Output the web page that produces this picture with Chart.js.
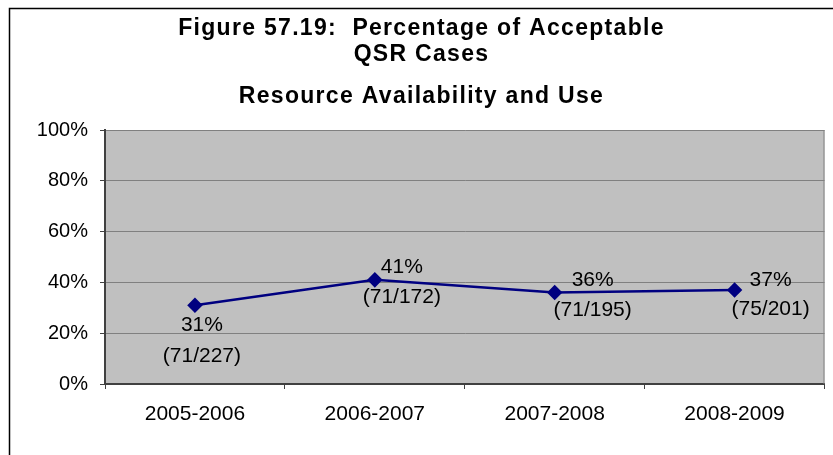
<!DOCTYPE html>
<html>
<head>
<meta charset="utf-8">
<script src="https://cdn.jsdelivr.net/npm/chart.js@4"></script>
<style>
  html, body { margin: 0; padding: 0; background: #fff; }
  #wrap { width: 833px; height: 455px; position: relative; }
</style>
</head>
<body>
<div id="wrap"><canvas id="chart"></canvas></div>
<script>
const years = ['2005-2006', '2006-2007', '2007-2008', '2008-2009'];
const acceptablePct = [31, 41, 36, 37];
const acceptableCases = [71, 71, 71, 75];
const reviewedCases = [227, 172, 195, 201];
const yTicks = [0, 20, 40, 60, 80, 100];
const titleLines = ['Figure 57.19:  Percentage of Acceptable', 'QSR Cases', 'Resource Availability and Use'];

const FONT = 'Arial, "Liberation Sans", sans-serif';

// title line heights, and where each point's two-line label sits
const titleY = [29, 55, 97];
const labelOffsets = [
    { dx: 7, top: 20, bottom: 51 },
    { dx: 27, top: -13, bottom: 17 },
    { dx: 38, top: -12, bottom: 18 },
    { dx: 36, top: -10, bottom: 19 }
];

// frame round the whole chart, grey plot area, title
const frame = {
    id: 'frame',
    beforeDraw(chart) {
        const { ctx, chartArea: a } = chart;
        ctx.save();
        ctx.fillStyle = '#c0c0c0';
        ctx.fillRect(a.left, a.top, a.right - a.left, a.bottom - a.top);
        ctx.strokeStyle = '#000';
        ctx.lineWidth = 1.5;
        ctx.strokeRect(9.5, 8.5, 900, 600);

        ctx.font = 'bold 23px ' + FONT;
        ctx.fillStyle = '#000';
        ctx.textAlign = 'center';
        ctx.textBaseline = 'middle';
        ctx.letterSpacing = '1.3px';
        titleLines.forEach((t, i) => ctx.fillText(t, 833 / 2 + 5, titleY[i]));
        ctx.restore();
    },
    beforeDatasetsDraw(chart) {
        const { ctx, chartArea: a } = chart;
        ctx.save();
        ctx.strokeStyle = '#808080';
        ctx.lineWidth = 1;
        ctx.beginPath();
        ctx.moveTo(a.right - 0.5, a.top);
        ctx.lineTo(a.right - 0.5, a.bottom);
        ctx.stroke();
        ctx.restore();
    }
};

const pointLabels = {
    id: 'pointLabels',
    afterDatasetsDraw(chart) {
        const { ctx } = chart;
        const meta = chart.getDatasetMeta(0);
        ctx.save();
        ctx.font = '21px ' + FONT;
        ctx.fillStyle = '#000';
        ctx.textAlign = 'center';
        ctx.textBaseline = 'middle';
        meta.data.forEach((pt, i) => {
            const o = labelOffsets[i];
            ctx.fillText(acceptablePct[i] + '%', pt.x + o.dx, pt.y + o.top);
            ctx.fillText('(' + acceptableCases[i] + '/' + reviewedCases[i] + ')', pt.x + o.dx, pt.y + o.bottom);
        });
        ctx.restore();
    }
};

new Chart(document.getElementById('chart'), {
    type: 'line',
    data: {
        labels: years,
        datasets: [{
            data: acceptablePct,
            borderColor: '#000080',
            borderWidth: 2.5,
            backgroundColor: '#000080',
            pointStyle: 'rectRot',
            pointRadius: 6,
            pointHoverRadius: 6,
            tension: 0
        }]
    },
    options: {
        responsive: true,
        maintainAspectRatio: false,
        animation: false,
        events: [],
        layout: { padding: { left: 0, right: 3, top: 130, bottom: 0 } },
        plugins: {
            legend: { display: false },
            tooltip: { enabled: false },
            title: { display: false }
        },
        scales: {
            x: {
                offset: true,
                afterFit(scale) { scale.height = 71; },
                grid: {
                    offset: true,
                    drawOnChartArea: false,
                    drawTicks: true,
                    tickLength: 5,
                    color: '#404040'
                },
                border: { color: '#404040', width: 2 },
                ticks: {
                    color: '#000',
                    padding: 13,
                    maxRotation: 0,
                    font: { family: FONT, size: 21 }
                }
            },
            y: {
                min: 0,
                max: 100,
                afterFit(scale) { scale.width = 105; },
                afterBuildTicks(scale) { scale.ticks = yTicks.map(v => ({ value: v })); },
                grid: {
                    color: '#808080',
                    lineWidth: 1,
                    tickLength: 5,
                    tickColor: '#404040'
                },
                border: { color: '#404040', width: 2 },
                ticks: {
                    color: '#000',
                    padding: 12,
                    font: { family: FONT, size: 20 },
                    callback: v => v + '%'
                }
            }
        }
    },
    plugins: [frame, pointLabels]
});
</script>
</body>
</html>
